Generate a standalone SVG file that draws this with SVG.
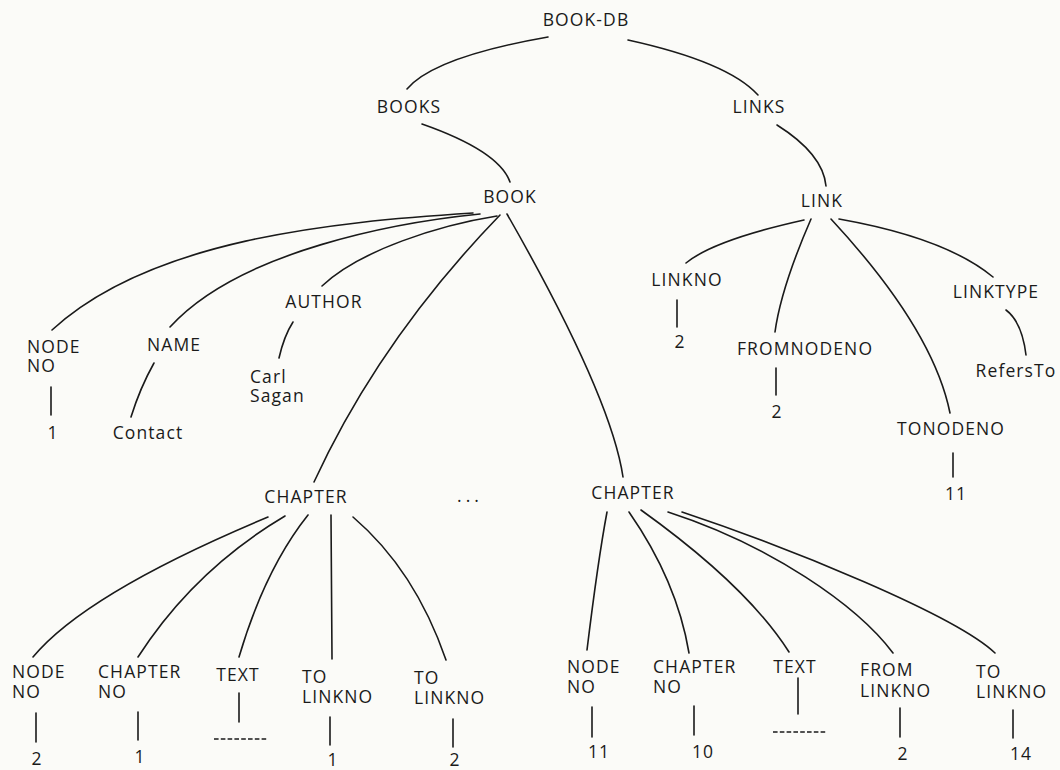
<svg xmlns="http://www.w3.org/2000/svg" width="1060" height="770" viewBox="0 0 1060 770">
<style>
text{font-family:"Open Sans","Noto Sans","Liberation Sans",sans-serif;font-size:17.5px;font-weight:500;fill:#1a1a1a;letter-spacing:1.1px}
.m{text-anchor:middle}
.c path,.c line{fill:none;stroke:#1a1a1a;stroke-width:1.6;stroke-linecap:round}
.d{stroke-dasharray:4.6 2.2;stroke-linecap:butt!important}
</style>
<rect width="1060" height="770" fill="#fbfbf8"/>
<g class="c" id="connectors">
<path d="M548,37 Q434,57 407,89"/>
<path d="M628,40 Q728,62 758,95"/>
<path d="M422,124 Q499,151 510,182"/>
<path d="M777,125 Q823,154 826,186"/>
<path d="M473,213 C330,222 150,240 52,330"/>
<path d="M480,214 C400,222 240,250 170,327"/>
<path d="M497,216 C440,225 360,250 322,286"/>
<path d="M500,215 Q380,339 314,482"/>
<path d="M507,214 Q611,396 623,477"/>
<line x1="51" y1="387" x2="51" y2="415"/>
<path d="M154,363 Q140,388 131,417"/>
<path d="M293,322 Q284,336 279,358"/>
<path d="M804,220 Q714,240 686,263"/>
<path d="M811,219 Q781,288 775,332"/>
<path d="M831,219 Q933,329 950,413"/>
<path d="M839,219 Q946,238 993,277"/>
<line x1="677" y1="300" x2="677" y2="327"/>
<line x1="776" y1="368" x2="776" y2="395"/>
<path d="M1006,310 Q1022,322 1026,355"/>
<line x1="953" y1="453" x2="953" y2="477"/>
<path d="M268,517 Q86,593 33,657"/>
<path d="M285,516 Q194,570 138,657"/>
<path d="M308,515 Q265,569 239,657"/>
<line x1="331" y1="515" x2="332" y2="659"/>
<path d="M353,517 Q415,570 446,660"/>
<line x1="36" y1="713" x2="36" y2="742"/>
<line x1="138" y1="712" x2="138" y2="740"/>
<line x1="239" y1="693" x2="239" y2="722"/>
<line x1="330" y1="717" x2="330" y2="745"/>
<line x1="453" y1="719" x2="453" y2="747"/>
<line class="d" x1="214" y1="739" x2="268" y2="739"/>
<path d="M607,512 Q598,560 587,650"/>
<path d="M629,512 Q677,581 689,653"/>
<path d="M641,510 Q747,586 789,652"/>
<path d="M668,512 C770,545 857,605 893,653"/>
<path d="M682,512 C790,548 955,615 995,653"/>
<line x1="592" y1="707" x2="592" y2="737"/>
<line x1="694" y1="706" x2="694" y2="735"/>
<line x1="798" y1="678" x2="798" y2="714"/>
<line x1="900" y1="708" x2="900" y2="737"/>
<line x1="1013" y1="710" x2="1013" y2="738"/>
<line class="d" x1="773" y1="732" x2="827" y2="732"/>
</g>
<g id="book-db"><text class="m" x="586" y="26">BOOK-DB</text></g>
<g id="books"><text class="m" x="409" y="113">BOOKS</text></g>
<g id="links"><text class="m" x="759" y="113">LINKS</text></g>
<g id="book"><text class="m" x="510" y="203">BOOK</text></g>
<g id="link"><text class="m" x="822" y="207">LINK</text></g>
<g id="linkno"><text class="m" x="687" y="286">LINKNO</text><text class="m" x="680" y="348">2</text></g>
<g id="fromnodeno"><text class="m" x="805" y="355">FROMNODENO</text><text class="m" x="777" y="418">2</text></g>
<g id="linktype"><text class="m" x="996" y="298">LINKTYPE</text><text class="m" x="1016" y="377">RefersTo</text></g>
<g id="tonodeno"><text class="m" x="951" y="435">TONODENO</text><text class="m" x="956" y="500">11</text></g>
<g id="nodeno"><text x="27" y="353">NODE<tspan x="27" dy="19">NO</tspan></text><text class="m" x="53" y="439">1</text></g>
<g id="name"><text class="m" x="174" y="351">NAME</text><text class="m" x="148" y="439">Contact</text></g>
<g id="author"><text class="m" x="324" y="308">AUTHOR</text><text x="250" y="383">Carl<tspan x="250" dy="19">Sagan</tspan></text></g>
<g id="chapter1"><text class="m" x="306" y="503">CHAPTER</text></g>
<g id="ellipsis"><text class="m" x="470" y="502" style="letter-spacing:4px">...</text></g>
<g id="chapter2"><text class="m" x="633" y="499">CHAPTER</text></g>
<g id="c1-nodeno"><text x="12" y="678">NODE<tspan x="12" dy="20">NO</tspan></text><text class="m" x="37" y="765">2</text></g>
<g id="c1-chapterno"><text x="98" y="678">CHAPTER<tspan x="98" dy="20">NO</tspan></text><text class="m" x="140" y="763">1</text></g>
<g id="c1-text"><text class="m" x="238" y="681">TEXT</text></g>
<g id="c1-tolinkno1"><text x="302" y="683">TO<tspan x="302" dy="20">LINKNO</tspan></text><text class="m" x="333" y="766">1</text></g>
<g id="c1-tolinkno2"><text x="414" y="684">TO<tspan x="414" dy="20">LINKNO</tspan></text><text class="m" x="455" y="766">2</text></g>
<g id="c2-nodeno"><text x="567" y="673">NODE<tspan x="567" dy="20">NO</tspan></text><text class="m" x="599" y="758">11</text></g>
<g id="c2-chapterno"><text x="653" y="673">CHAPTER<tspan x="653" dy="20">NO</tspan></text><text class="m" x="703" y="758">10</text></g>
<g id="c2-text"><text class="m" x="795" y="673">TEXT</text></g>
<g id="c2-fromlinkno"><text x="860" y="676">FROM<tspan x="860" dy="21">LINKNO</tspan></text><text class="m" x="903" y="760">2</text></g>
<g id="c2-tolinkno"><text x="976" y="678">TO<tspan x="976" dy="20">LINKNO</tspan></text><text class="m" x="1021" y="760">14</text></g>
</svg>
